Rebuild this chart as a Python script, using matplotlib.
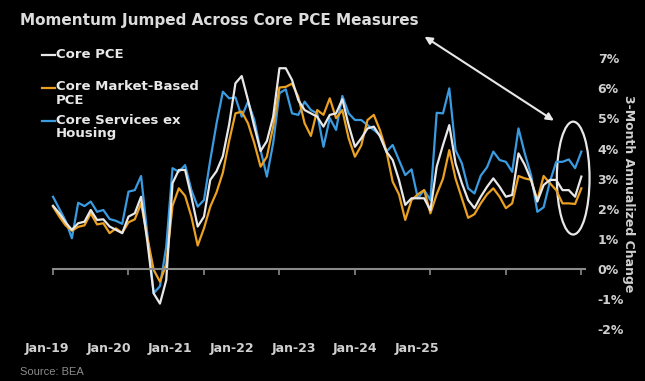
import numpy as np
import matplotlib
matplotlib.use("Agg")
import matplotlib.pyplot as plt
from matplotlib.patches import Ellipse
from matplotlib.lines import Line2D

core_pce = [2.10, 1.85, 1.55, 1.30, 1.52, 1.57, 1.96, 1.63, 1.65, 1.41,
            1.30, 1.19, 1.74, 1.85, 2.40, 0.90, -0.81, -1.15, -0.37, 2.85,
            3.29, 3.29, 2.40, 1.41, 1.74, 2.96, 3.25, 3.75, 4.80, 6.17,
            6.41, 5.61, 4.73, 3.92, 4.25, 5.06, 6.67, 6.67, 6.28, 5.61,
            5.28, 5.17, 5.06, 4.73, 5.12, 5.17, 5.64, 4.78, 4.06, 4.34,
            4.67, 4.73, 4.40, 3.90, 3.62, 2.96, 2.13, 2.35, 2.35, 2.35,
            1.95, 3.40, 4.12, 4.78, 3.51, 2.85, 2.29, 2.02, 2.40, 2.73,
            3.01, 2.73, 2.40, 2.46, 3.84, 3.46, 2.96, 2.24, 2.79, 2.96,
            2.96, 2.62, 2.62, 2.40, 3.07]

market_based = [2.07, 1.74, 1.45, 1.27, 1.40, 1.45, 1.85, 1.48, 1.52, 1.19,
                1.35, 1.20, 1.55, 1.65, 2.18, 1.05, -0.03, -0.42, 0.15, 2.10,
                2.68, 2.43, 1.74, 0.78, 1.35, 2.07, 2.55, 3.20, 4.25, 5.17,
                5.23, 4.84, 4.18, 3.40, 3.73, 4.73, 6.03, 6.05, 6.16, 5.72,
                4.84, 4.42, 5.28, 5.12, 5.67, 5.01, 5.28, 4.34, 3.73, 4.10,
                4.95, 5.12, 4.60, 3.92, 2.90, 2.48, 1.63, 2.29, 2.48, 2.62,
                1.85, 2.48, 3.00, 3.95, 3.00, 2.35, 1.70, 1.82, 2.18, 2.48,
                2.68, 2.40, 2.02, 2.18, 3.09, 3.01, 2.96, 2.29, 3.09, 2.85,
                2.62, 2.18, 2.18, 2.16, 2.68]

services_ex_housing = [2.40, 2.00, 1.60, 1.02, 2.20, 2.09, 2.24, 1.90, 1.96, 1.66,
                       1.60, 1.50, 2.57, 2.62, 3.09, 1.15, -0.81, -0.57, 0.74, 3.35,
                       3.23, 3.45, 2.62, 2.07, 2.29, 3.62, 4.84, 5.89, 5.67, 5.70,
                       5.06, 5.56, 4.95, 3.95, 3.07, 4.18, 5.84, 5.97, 5.17, 5.12,
                       5.56, 5.28, 5.17, 4.06, 5.01, 4.62, 5.75, 5.17, 4.95, 4.95,
                       4.78, 4.62, 4.45, 3.90, 4.12, 3.62, 3.12, 3.31, 2.35, 2.62,
                       2.29, 5.19, 5.17, 6.00, 3.95, 3.51, 2.68, 2.51, 3.10, 3.38,
                       3.90, 3.62, 3.56, 3.23, 4.67, 3.84, 3.12, 1.90, 2.05, 2.90,
                       3.56, 3.56, 3.64, 3.35, 3.90]

x_labels = ["Jan-19", "Jan-20", "Jan-21", "Jan-22", "Jan-23", "Jan-24", "Jan-25"]
y_ticks = [-2, -1, 0, 1, 2, 3, 4, 5, 6, 7]

series_names = ["Core PCE", "Core Market-Based\nPCE", "Core Services ex\nHousing"]
WHITE = "#e8e8e8"
ORANGE = "#eaa021"
BLUE = "#3b9be0"
TXT = "#d0d0d0"

W, H = 645, 381
fig = plt.figure(figsize=(W / 100, H / 100), dpi=100, facecolor="black")
ax = fig.add_axes([0.0705, 0.136, 0.8367, 0.711])
ax.set_facecolor("black")

months = np.arange(len(core_pce))
ax.plot(months, services_ex_housing, color=BLUE, lw=1.6)
ax.plot(months, market_based, color=ORANGE, lw=1.6)
ax.plot(months, core_pce, color=WHITE, lw=1.6)

ax.set_xlim(-1.2, 84.6)
ax.set_ylim(-2, 7)

# zero line acts as the x axis
for s in ["top", "left", "right"]:
    ax.spines[s].set_visible(False)
ax.spines["bottom"].set_position(("data", 0))
ax.spines["bottom"].set_bounds(0, 84.6)
ax.spines["bottom"].set_color("#8a8a8a")
ax.spines["bottom"].set_linewidth(1.5)
ax.set_xticks(np.arange(0, 85, 12))
ax.tick_params(axis="x", direction="out", length=4, width=1.2, color="#8a8a8a", labelbottom=False)

sec = ax.secondary_xaxis("bottom")
sec.spines["bottom"].set_visible(False)
sec.set_xticks(-0.95 + 9.8 * np.arange(len(x_labels)))
sec.set_xticklabels(x_labels)
sec.tick_params(length=0, pad=9, labelsize=9, labelcolor=TXT)
for t in sec.get_xticklabels():
    t.set_fontweight("bold")

ax.yaxis.tick_right()
ax.set_yticks(y_ticks)
ax.set_yticklabels([f"{v}%" for v in y_ticks], fontsize=9, fontweight="bold", color=TXT)
ax.tick_params(axis="y", length=0, pad=9)
ax.yaxis.set_label_position("right")
ax.set_ylabel("3-Month Annualized Change", rotation=-90, fontsize=9, fontweight="bold",
              color=TXT, labelpad=8)

# highlight of the latest readings
ax.add_patch(Ellipse((82.7, 3.02), 5.2, 3.75, fill=False, ec=WHITE, lw=1.6, clip_on=False))
ax.annotate("", xy=(80.0, 4.88), xytext=(58.7, 7.77),
            arrowprops=dict(arrowstyle="<|-|>", color=WHITE, lw=1.5, mutation_scale=11),
            annotation_clip=False)

fig.text(20 / W, 1 - 20 / H, "Momentum Jumped Across Core PCE Measures", fontsize=11,
         fontweight="bold", color="#dcdcdc", va="center", ha="left")
fig.text(20 / W, 1 - 372 / H, "Source: BEA", fontsize=8, color="#8c8c8c",
         family="Liberation Sans", va="center", ha="left")

# legend, drawn by hand so the dash sits on the first line
for name, col, yc in zip(series_names, [WHITE, ORANGE, BLUE], [55, 88, 121]):
    fig.add_artist(Line2D([42 / W, 55 / W], [1 - yc / H, 1 - yc / H], color=col, lw=1.6))
    fig.text(56 / W, 1 - (yc - 7.5) / H, name, fontsize=9.5, fontweight="bold",
             color=WHITE, va="top", ha="left", linespacing=1.1)

fig.savefig("out.png", dpi=100, facecolor="black")
